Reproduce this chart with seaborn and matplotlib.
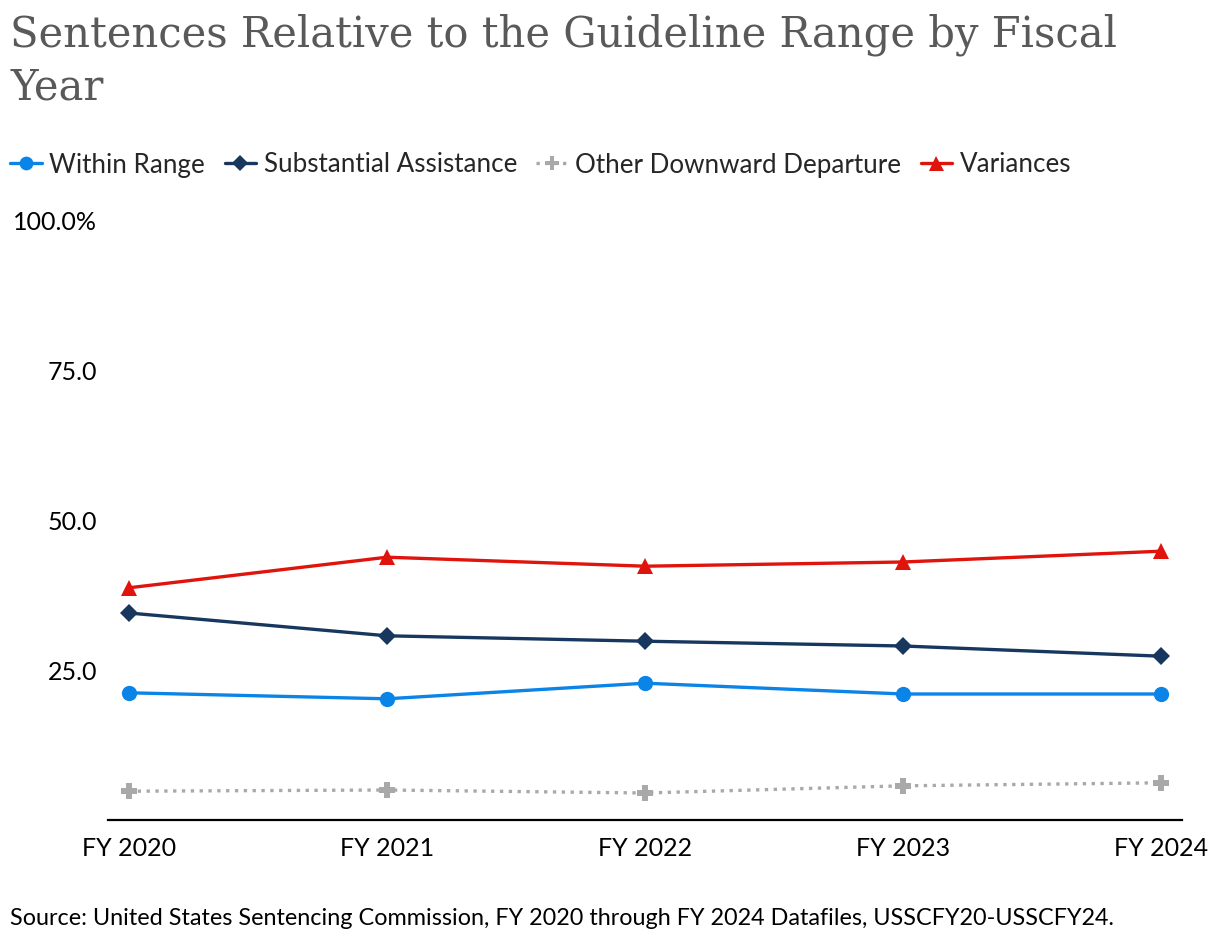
import numpy as np
import pandas as pd
import matplotlib.pyplot as plt
import seaborn as sns
from matplotlib.lines import Line2D

years = ["FY 2020", "FY 2021", "FY 2022", "FY 2023", "FY 2024"]
within_range = [21.2, 20.2, 22.8, 21.0, 21.0]
substantial = [34.5, 30.7, 29.8, 29.0, 27.3]
other_down = [4.8, 5.0, 4.5, 5.7, 6.2]
variances = [38.7, 43.8, 42.3, 43.0, 44.8]

sns.set_style("white")
plt.rcParams["font.family"] = ["Lato", "DejaVu Sans"]

df = pd.DataFrame({
    "Year": years * 4,
    "Pct": within_range + substantial + other_down + variances,
    "Series": (["Within Range"] * 5 + ["Substantial Assistance"] * 5
               + ["Other Downward Departure"] * 5 + ["Variances"] * 5),
})

styles = {
    "Within Range": dict(color="#0B84E8", marker="o", ls="-"),
    "Substantial Assistance": dict(color="#17375E", marker="D", ls="-"),
    "Other Downward Departure": dict(color="#A9A9A9", marker="P", ls=":"),
    "Variances": dict(color="#E0140C", marker="^", ls="-"),
}
msizes = {"o": 11, "D": 9, "P": 11, "^": 12}

fig = plt.figure(figsize=(12.2, 9.46), dpi=100)
ax = fig.add_axes([108 / 1220, 1 - 820 / 946, (1182 - 108) / 1220, 600 / 946])

df["x"] = df["Year"].map({y: i for i, y in enumerate(years)})
handles = []
for name, st in styles.items():
    sub = df[df["Series"] == name]
    sns.lineplot(data=sub, x="x", y="Pct", ax=ax, color=st["color"],
                 marker=st["marker"], markersize=msizes[st["marker"]],
                 markeredgewidth=0, linewidth=2.4, linestyle=st["ls"],
                 legend=False)
    handles.append(Line2D([0], [0], color=st["color"], marker=st["marker"],
                          markersize=msizes[st["marker"]] * 0.9, markeredgewidth=0,
                          linewidth=2.4, linestyle=st["ls"], label=name))

ax.set_xlim(-0.081, 4.081)
ax.set_ylim(0, 100)
ax.set_xticks(range(5))
ax.set_xticklabels(years)
ax.set_yticks([25, 50, 75, 100])
ax.set_yticklabels(["25.0", "50.0", "75.0", "100.0%"])
ax.tick_params(axis="both", length=0, labelsize=18, colors="black")
ax.tick_params(axis="y", pad=8)
ax.tick_params(axis="x", pad=12)
ax.set_xlabel("")
ax.set_ylabel("")
for s in ["top", "right", "left"]:
    ax.spines[s].set_visible(False)
ax.spines["bottom"].set_color("black")
ax.spines["bottom"].set_linewidth(1.6)

fig.text(10 / 1220, 1 - 14 / 946, "Sentences Relative to the Guideline Range by Fiscal\nYear",
         family="DejaVu Serif", fontsize=30, color="#595959", va="top", ha="left",
         linespacing=1.3)

fig.legend(handles=handles, loc="center left", bbox_to_anchor=(0.0, 1 - 165 / 946),
           ncol=4, frameon=False, fontsize=18.7, handlelength=1.2,
           handletextpad=0.3, columnspacing=0.75, borderaxespad=0.0)

fig.text(10 / 1220, 1 - 918 / 946,
         "Source: United States Sentencing Commission, FY 2020 through FY 2024 Datafiles, USSCFY20-USSCFY24.",
         fontsize=16.8, color="black", va="center", ha="left")

plt.savefig("out.png", dpi=100)
